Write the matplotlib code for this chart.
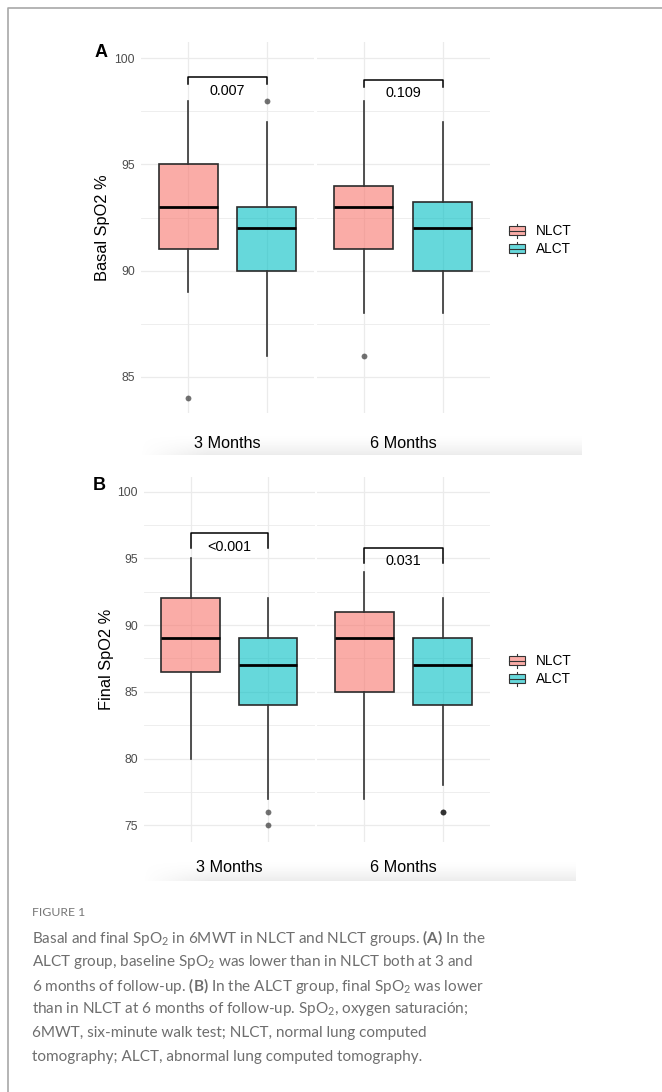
import numpy as np
import matplotlib

matplotlib.use('Agg')
import matplotlib.pyplot as plt
from matplotlib.patches import Patch, Rectangle
from matplotlib.lines import Line2D
from matplotlib.legend_handler import HandlerBase

CAP_FONT = 'Lato'

plt.rcParams['font.family'] = ['Liberation Sans', 'DejaVu Sans']
plt.rcParams['mathtext.fontset'] = 'custom'
plt.rcParams['mathtext.rm'] = CAP_FONT
plt.rcParams['mathtext.bf'] = CAP_FONT + ':bold'

# ---- data --------------------------------------------------------------------
months = ['3 Months', '6 Months']
groups = ['NLCT', 'ALCT']
colors = ['#F8766D', '#00BFC4']

# [month][group]
basal_lo = [[89, 86], [88, 88]]
basal_q1 = [[91, 90], [91, 90]]
basal_med = [[93, 92], [93, 92]]
basal_q3 = [[95, 93], [94, 93.25]]
basal_hi = [[98, 97], [98, 97]]
basal_out = [[[84], [98]], [[86], []]]
basal_p = ['0.007', '0.109']
basal_br_top = [99.13, 98.98]
basal_br_tip = [98.79, 98.66]
basal_p_y = [98.47, 98.35]

final_lo = [[80, 77], [77, 78]]
final_q1 = [[86.5, 84], [85, 84]]
final_med = [[89, 87], [89, 87]]
final_q3 = [[92, 89], [91, 89]]
final_hi = [[95, 92], [94, 92]]
final_out = [[[], [76, 75]], [[], [76, 76]]]
final_p = ['<0.001', '0.031']
final_br_top = [96.88, 95.76]
final_br_tip = [95.76, 94.68]
final_p_y = [95.83, 94.83]

caption = [
    r'Basal and final SpO$_2$ in 6MWT in NLCT and NLCT groups. $\mathbf{(A)}$ In the',
    r'ALCT group, baseline SpO$_2$ was lower than in NLCT both at 3 and',
    r'6 months of follow-up. $\mathbf{(B)}$ In the ALCT group, final SpO$_2$ was lower',
    r'than in NLCT at 6 months of follow-up. SpO$_2$, oxygen saturación;',
    r'6MWT, six-minute walk test; NLCT, normal lung computed',
    r'tomography; ALCT, abnormal lung computed tomography.',
]

W, H = 662, 1092


def px_rect(left, top, right, bottom):
    return [left / W, 1 - bottom / H, (right - left) / W, (bottom - top) / H]


class BoxKey(HandlerBase):
    def create_artists(self, legend, orig, xd, yd, w, h, fontsize, trans):
        x0, y0 = -xd, -yd
        box = Rectangle((x0, y0 + h * 0.18), w, h * 0.64, facecolor=orig.get_facecolor(),
                        edgecolor='#333333', lw=0.8, transform=trans)
        med = Line2D([x0, x0 + w], [y0 + h / 2] * 2, color='#333333', lw=0.8, transform=trans)
        wt = Line2D([x0 + w / 2] * 2, [y0 + h * 0.82, y0 + h], color='#333333', lw=0.8, transform=trans)
        wb = Line2D([x0 + w / 2] * 2, [y0, y0 + h * 0.18], color='#333333', lw=0.8, transform=trans)
        return [box, med, wt, wb]


fig = plt.figure(figsize=(W / 100, H / 100), dpi=100)

# overlay in pixel coordinates for frame, labels and caption
ov = fig.add_axes([0, 0, 1, 1])
ov.set_xlim(0, W)
ov.set_ylim(H, 0)
ov.axis('off')
ov.plot([8, 8, W], [H, 8, 8], color='#a8a8a8', lw=1.2, solid_capstyle='butt')

panels = [
    dict(lo=basal_lo, q1=basal_q1, med=basal_med, q3=basal_q3, hi=basal_hi, out=basal_out,
         p=basal_p, top=basal_br_top, tip=basal_br_tip, py=basal_p_y,
         facets=[(141, 314), (316.5, 490)], ytop=41.7, ybot=413.3, ylim=(83.28, 100.78),
         yticks=[85, 90, 95, 100], ylabel='Basal SpO2 %', ylabel_xy=(102, 228),
         letter='A', letter_xy=(101.5, 52.5), strip_y=443, band=(140, 582, 434, 455),
         legend_y=240),
    dict(lo=final_lo, q1=final_q1, med=final_med, q3=final_q3, hi=final_hi, out=final_out,
         p=final_p, top=final_br_top, tip=final_br_tip, py=final_p_y,
         facets=[(144, 314.5), (317, 490)], ytop=476.7, ybot=841.7, ylim=(73.77, 101.12),
         yticks=[75, 80, 85, 90, 95, 100], ylabel='Final SpO2 %', ylabel_xy=(106.7, 659),
         letter='B', letter_xy=(99, 486), strip_y=868, band=(143, 576, 860, 881),
         legend_y=670),
]

for pn in panels:
    for m, (l, r) in enumerate(pn['facets']):
        ax = fig.add_axes(px_rect(l, pn['ytop'], r, pn['ybot']))
        ax.set_facecolor('none')
        for s in ax.spines.values():
            s.set_visible(False)

        stats = []
        for g in range(2):
            stats.append(dict(whislo=pn['lo'][m][g], q1=pn['q1'][m][g], med=pn['med'][m][g],
                              q3=pn['q3'][m][g], whishi=pn['hi'][m][g], fliers=pn['out'][m][g]))
        bp = ax.bxp(stats, positions=[1, 2], widths=0.75, patch_artist=True, showcaps=False,
                    manage_ticks=False,
                    boxprops=dict(edgecolor='#2b2b2b', lw=1.2),
                    whiskerprops=dict(color='#333333', lw=1.2),
                    medianprops=dict(color='black', lw=2.0, solid_capstyle='butt'),
                    flierprops=dict(marker='o', markersize=4.2, markerfacecolor='black',
                                    markeredgecolor='none', alpha=0.55))
        for patch, c in zip(bp['boxes'], colors):
            patch.set_facecolor(matplotlib.colors.to_rgba(c, 0.6))

        ax.set_xlim(0.4, 2.6)
        ax.set_ylim(*pn['ylim'])
        ax.set_xticks([1, 2], labels=[])
        ax.set_yticks(pn['yticks'])
        ax.set_yticks([t + 2.5 for t in pn['yticks']][:-1], minor=True)
        ax.tick_params(which='both', length=0, pad=4.5, labelsize=8.8, labelcolor='#4d4d4d')
        if m > 0:
            ax.set_yticklabels([])
        ax.grid(which='major', color='#ebebeb', lw=0.9)
        ax.grid(which='minor', axis='y', color='#ebebeb', lw=0.6)
        ax.set_axisbelow(True)

        # significance bracket
        ax.plot([1, 1, 2, 2], [pn['tip'][m], pn['top'][m], pn['top'][m], pn['tip'][m]],
                color='black', lw=1.1, clip_on=False)
        ax.text(1.5, pn['py'][m], pn['p'][m], ha='center', va='center', fontsize=10.4)

        ov.text((l + r) / 2, pn['strip_y'], months[m], ha='center', va='center', fontsize=11.7)

    # shaded strip shadow
    x0, x1, y0, y1 = pn['band']
    ny, nx = 40, 200
    vy = np.linspace(0, 1, ny)[:, None] ** 1.6
    vx = np.clip(np.linspace(0, 1, nx)[None, :] / 0.15, 0, 1)
    img = np.ones((ny, nx, 4))
    img[..., :3] = 0.72
    img[..., 3] = 0.26 * vy * vx
    ov.imshow(img, extent=(x0, x1, y1, y0), aspect='auto', interpolation='bilinear', zorder=0)

    ov.text(*pn['ylabel_xy'], pn['ylabel'], rotation=90, ha='center', va='center', fontsize=11.8)
    ov.text(*pn['letter_xy'], pn['letter'], ha='center', va='center', fontsize=13,
            fontweight='bold')

    handles = [Patch(facecolor=matplotlib.colors.to_rgba(c, 0.6)) for c in colors]
    fig.legend(handles, groups, loc='center left', bbox_to_anchor=(509 / W, 1 - pn['legend_y'] / H),
               frameon=False, fontsize=9.8, handlelength=1.15, handleheight=1.2,
               handletextpad=0.8, labelspacing=0.25, borderpad=0, borderaxespad=0,
               handler_map={Patch: BoxKey()})

ov.set_xlim(0, W)
ov.set_ylim(H, 0)

ov.text(32, 913, 'FIGURE 1', ha='left', va='center', fontsize=8.8, color='#777777',
        family=CAP_FONT)
for i, line in enumerate(caption):
    ov.text(32, 938 + i * 23.8, line, ha='left', va='center', fontsize=11.0, color='#6e6e6e',
            family=CAP_FONT)

fig.savefig('out.png', dpi=100)
